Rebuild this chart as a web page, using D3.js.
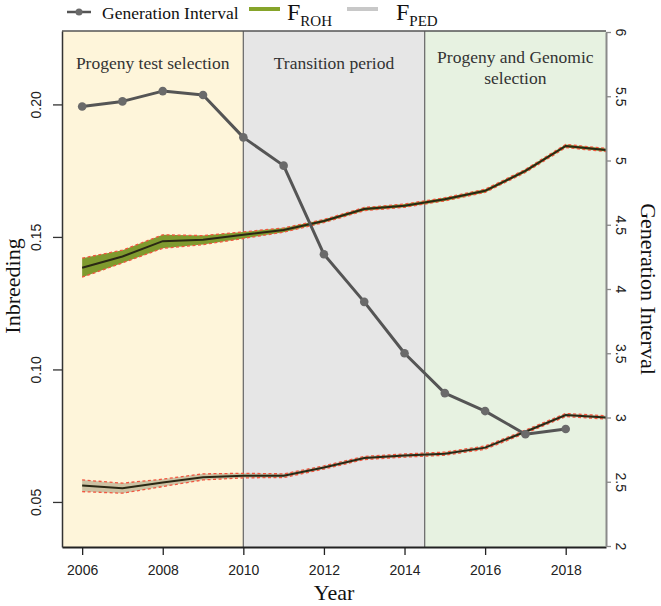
<!DOCTYPE html>
<html>
<head>
<meta charset="utf-8">
<script src="https://cdn.jsdelivr.net/npm/d3@7"></script>
<style>
  html, body { margin: 0; padding: 0; background: #fff; }
  svg { display: block; }
</style>
</head>
<body>
<svg id="chart" width="661" height="606"></svg>
<script>
// ---------------- data ----------------
const years = [2006, 2007, 2008, 2009, 2010, 2011, 2012, 2013, 2014, 2015, 2016, 2017, 2018, 2019];
const giYears = [2006, 2007, 2008, 2009, 2010, 2011, 2012, 2013, 2014, 2015, 2016, 2017, 2018];
const genInterval = [5.42, 5.46, 5.54, 5.51, 5.18, 4.96, 4.27, 3.90, 3.50, 3.19, 3.05, 2.87, 2.91];
const fROH     = [0.1384, 0.1426, 0.1484, 0.1489, 0.1508, 0.1526, 0.1560, 0.1605, 0.1618, 0.1642, 0.1674, 0.1749, 0.1843, 0.1828];
const fROHLow  = [0.1348, 0.1402, 0.1457, 0.1471, 0.1494, 0.1518, 0.1554, 0.1599, 0.1612, 0.1636, 0.1668, 0.1743, 0.1837, 0.1822];
const fROHHigh = [0.1420, 0.1450, 0.1508, 0.1505, 0.1519, 0.1534, 0.1566, 0.1611, 0.1624, 0.1648, 0.1680, 0.1755, 0.1849, 0.1834];
const fPED     = [0.0562, 0.0552, 0.0573, 0.0593, 0.0599, 0.0599, 0.0630, 0.0666, 0.0675, 0.0682, 0.0705, 0.0765, 0.0828, 0.0819];
const fPEDLow  = [0.0539, 0.0533, 0.0558, 0.0583, 0.0591, 0.0592, 0.0624, 0.0660, 0.0669, 0.0676, 0.0699, 0.0759, 0.0822, 0.0813];
const fPEDHigh = [0.0583, 0.0571, 0.0586, 0.0606, 0.0608, 0.0606, 0.0636, 0.0672, 0.0681, 0.0688, 0.0711, 0.0771, 0.0834, 0.0825];
const periodStart = [2005.5, 2010, 2014.5];
const periodEnd   = [2010, 2014.5, 2019];
const periodLabels = [["Progeny test selection"], ["Transition period"], ["Progeny and Genomic", "selection"]];
const xTicks = [2006, 2008, 2010, 2012, 2014, 2016, 2018];
const leftTicks = [0.05, 0.10, 0.15, 0.20];
const rightTicks = [2, 2.5, 3, 3.5, 4, 4.5, 5, 5.5, 6];
const rightTickLabels = ["2", "2.5", "3", "3.5", "4", "4.5", "5", "5.5", "6"];

// ---------------- layout ----------------
const L = 62, R = 606, T = 31, B = 547;
const svg = d3.select("#chart");
const x = d3.scaleLinear().domain([2005.5, 2019]).range([L, R]);
const yL = d3.scaleLinear().domain([0.033, 0.2277]).range([B, T]);
const yR = d3.scaleLinear().domain([2, 6]).range([546, 32]);

const periodFill = ["#fef5da", "#e6e6e6", "#e7f2e1"];
const serif = "'Liberation Serif', 'DejaVu Serif', serif";
const sans = "'Liberation Sans', Arial, sans-serif";

// backgrounds
svg.selectAll("rect.period").data(periodStart).enter().append("rect")
  .attr("x", (d) => x(d)).attr("y", T)
  .attr("width", (d, i) => x(periodEnd[i]) - x(d)).attr("height", B - T)
  .attr("fill", (d, i) => periodFill[i]);

// separators
svg.selectAll("line.sep").data(periodStart.slice(1)).enter().append("line")
  .attr("x1", (d) => x(d)).attr("x2", (d) => x(d)).attr("y1", T).attr("y2", B)
  .attr("stroke", "#6f6f6f").attr("stroke-width", 1.3);

// period labels
periodLabels.forEach((lines, i) => {
  const cx = (x(periodStart[i]) + x(periodEnd[i])) / 2;
  const t = svg.append("text").attr("x", cx).attr("y", lines.length > 1 ? 63 : 69)
    .attr("text-anchor", "middle").attr("font-family", serif).attr("font-size", 17.5).attr("fill", "#333");
  lines.forEach((s, j) => t.append("tspan").attr("x", cx).attr("dy", j === 0 ? 0 : 21).text(s));
});

// bands
const band = (lo, hi) => d3.area().x((d, i) => x(years[i])).y0((d, i) => yL(lo[i])).y1((d, i) => yL(hi[i]));
const lineOf = (arr) => d3.line().x((d, i) => x(years[i])).y((d) => yL(d));

svg.append("path").datum(years).attr("d", band(fPEDLow, fPEDHigh)).attr("fill", "#b8ad8c").attr("opacity", 0.7);
svg.append("path").datum(years).attr("d", band(fROHLow, fROHHigh)).attr("fill", "#7f9a2e");

[fROHLow, fROHHigh, fPEDLow, fPEDHigh].forEach((arr) => {
  svg.append("path").datum(arr).attr("d", lineOf(arr)).attr("fill", "none")
    .attr("stroke", "#f2553f").attr("stroke-width", 1.3).attr("stroke-dasharray", "3,2.5");
});
[fROH, fPED].forEach((arr) => {
  svg.append("path").datum(arr).attr("d", lineOf(arr)).attr("fill", "none")
    .attr("stroke", "#2a2814").attr("stroke-width", 2);
});

// generation interval
svg.append("path").datum(genInterval)
  .attr("d", d3.line().x((d, i) => x(giYears[i])).y((d) => yR(d)))
  .attr("fill", "none").attr("stroke", "#555").attr("stroke-width", 3).attr("stroke-linejoin", "round");
svg.selectAll("circle.gi").data(genInterval).enter().append("circle")
  .attr("cx", (d, i) => x(giYears[i])).attr("cy", (d) => yR(d)).attr("r", 4.3).attr("fill", "#6a6a6a");

// frame: top
svg.append("line").attr("x1", L).attr("x2", R).attr("y1", T).attr("y2", T).attr("stroke", "#555").attr("stroke-width", 1.3);

// bottom axis
const xAxis = svg.append("g").attr("transform", `translate(0,${B})`)
  .call(d3.axisBottom(x).tickValues(xTicks).tickFormat(d3.format("d")).tickSize(8).tickSizeOuter(0).tickPadding(10));
xAxis.select(".domain").attr("stroke", "#222").attr("stroke-width", 2);
xAxis.selectAll(".tick line").attr("stroke", "#222").attr("stroke-width", 1.3);
xAxis.selectAll("text").attr("font-family", sans).attr("font-size", 14).attr("fill", "#222");

// left axis
const lAxis = svg.append("g").attr("transform", `translate(${L},0)`)
  .call(d3.axisLeft(yL).tickValues(leftTicks).tickFormat(d3.format(".2f")).tickSize(9).tickSizeOuter(0).tickPadding(6));
lAxis.select(".domain").attr("stroke", "#333").attr("stroke-width", 1.5);
lAxis.selectAll(".tick line").attr("stroke", "#333").attr("stroke-width", 1.3);
lAxis.selectAll("text").attr("font-family", sans).attr("font-size", 14).attr("fill", "#222")
  .attr("text-anchor", "middle").attr("transform", "translate(-26,0) rotate(-90)").attr("x", 0).attr("dy", "0.35em");

// right axis
const rAxis = svg.append("g").attr("transform", `translate(${R},0)`)
  .call(d3.axisRight(yR).tickValues(rightTicks).tickFormat((d, i) => rightTickLabels[i]).tickSize(5).tickSizeOuter(0).tickPadding(6));
rAxis.select(".domain").attr("stroke", "#8a8a8a").attr("stroke-width", 2);
rAxis.selectAll(".tick line").attr("stroke", "#8a8a8a").attr("stroke-width", 1.3);
rAxis.selectAll("text").attr("font-family", sans).attr("font-size", 14).attr("fill", "#222")
  .attr("text-anchor", "middle").attr("transform", "translate(15,0) rotate(90)").attr("x", 0).attr("dy", "0.35em");

// axis titles
svg.append("text").attr("transform", "translate(20,286) rotate(-90)").attr("text-anchor", "middle")
  .attr("font-family", serif).attr("font-size", 22).attr("fill", "#111").text("Inbreeding");
svg.append("text").attr("transform", "translate(641,289) rotate(90)").attr("text-anchor", "middle")
  .attr("font-family", serif).attr("font-size", 22).attr("fill", "#111").text("Generation Interval");
svg.append("text").attr("x", 334).attr("y", 600).attr("text-anchor", "middle")
  .attr("font-family", serif).attr("font-size", 22).attr("fill", "#111").text("Year");

// legend
const lg = svg.append("g");
lg.append("line").attr("x1", 67).attr("x2", 91).attr("y1", 12).attr("y2", 12).attr("stroke", "#555").attr("stroke-width", 2.5);
lg.append("circle").attr("cx", 79).attr("cy", 12).attr("r", 3.5).attr("fill", "#6a6a6a");
lg.append("text").attr("x", 102).attr("y", 19).attr("font-family", serif).attr("font-size", 17.5).attr("fill", "#111").text("Generation Interval");
lg.append("line").attr("x1", 249).attr("x2", 280).attr("y1", 9).attr("y2", 9).attr("stroke", "#86a42a").attr("stroke-width", 4);
const t1 = lg.append("text").attr("x", 287).attr("y", 20).attr("font-family", serif).attr("font-size", 24).attr("fill", "#111");
t1.append("tspan").text("F");
t1.append("tspan").attr("font-size", 15).attr("dy", 6).text("ROH");
lg.append("line").attr("x1", 347).attr("x2", 378).attr("y1", 9).attr("y2", 9).attr("stroke", "#c8c8c8").attr("stroke-width", 4);
const t2 = lg.append("text").attr("x", 396).attr("y", 20).attr("font-family", serif).attr("font-size", 24).attr("fill", "#111");
t2.append("tspan").text("F");
t2.append("tspan").attr("font-size", 15).attr("dy", 6).text("PED");
</script>
</body>
</html>
